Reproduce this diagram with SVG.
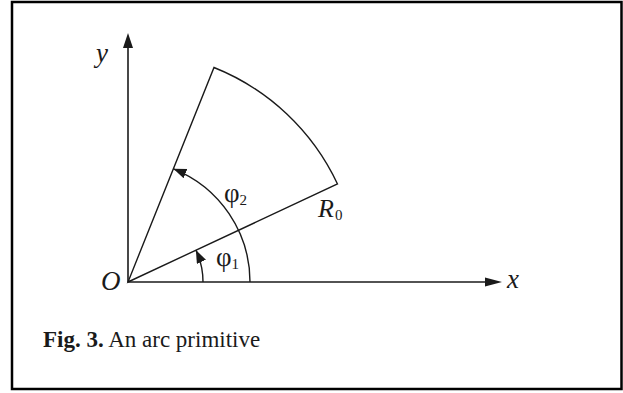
<svg xmlns="http://www.w3.org/2000/svg" width="623" height="393" viewBox="0 0 623 393">
<style>
.ln{fill:none;stroke:#1a1a1a;stroke-width:1.4}
.ax{fill:none;stroke:#1a1a1a;stroke-width:1.6}
.t{font-family:"Liberation Serif","Times New Roman",serif;fill:#1a1a1a}
.it{font-style:italic}
</style>
<defs>
<marker id="ah" markerUnits="userSpaceOnUse" markerWidth="16" markerHeight="12" refX="13" refY="5" orient="auto">
<path d="M0,0 L13,5 L0,10 Z" fill="#1a1a1a"/>
</marker>
</defs>
<rect x="12" y="2" width="609.5" height="387" fill="#fff" stroke="#000" stroke-width="2.5"/>
<g id="axes">
<line class="ax" x1="128" y1="282" x2="128" y2="46"/>
<polygon points="128,33 123,48 133,48" fill="#1a1a1a"/>
<line class="ax" x1="128" y1="282" x2="488" y2="282"/>
<polygon points="502,282 485,277.5 485,286.5" fill="#1a1a1a"/>
</g>
<g id="sector">
<path class="ln" d="M128,282 L337.5,184 A231,231 0 0 0 214,67.5 Z"/>
</g>
<g id="connectors">
<path class="ln" d="M203,282 A75,75 0 0 0 195.9,250.1" marker-end="url(#ah)"/>
<path class="ln" d="M250,282 A122,122 0 0 0 173.4,168.8" marker-end="url(#ah)"/>
</g>
<g id="labels">
<text class="t it" x="96" y="62" font-size="27">y</text>
<text class="t it" x="101" y="290" font-size="27">O</text>
<text class="t it" x="507" y="288" font-size="27">x</text>
<text class="t" x="216" y="266" font-size="27">φ<tspan font-size="15" dy="3">1</tspan></text>
<text class="t" x="224" y="202" font-size="27">φ<tspan font-size="15" dy="3">2</tspan></text>
<text class="t" x="318" y="217" font-size="26"><tspan class="it">R</tspan><tspan font-size="15" dx="1" dy="3">0</tspan></text>
</g>
<g id="caption">
<text class="t" x="43" y="346.5" font-size="23"><tspan font-weight="bold">Fig. 3.</tspan> An arc primitive</text>
</g>
</svg>
